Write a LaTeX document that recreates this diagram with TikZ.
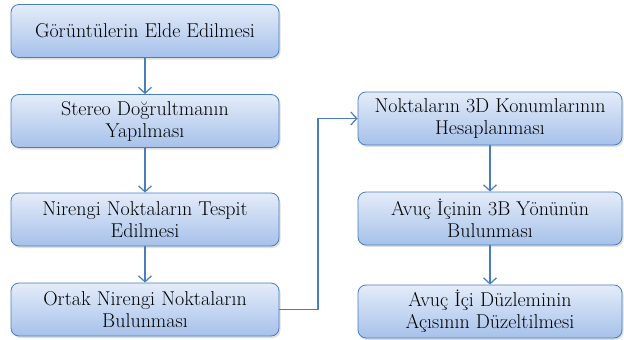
\documentclass[tikz,border=0pt]{standalone}
\usepackage{fontspec}
\usetikzlibrary{arrows.meta,shadows}
\definecolor{edgeblue}{HTML}{4A7EBB}
\definecolor{boxtop}{HTML}{E4ECF9}
\definecolor{boxbot}{HTML}{A6C1EA}
\begin{document}
\begin{tikzpicture}[x=1pt,y=-1pt,
  box/.style={draw=edgeblue, line width=0.8pt, rounded corners=8pt,
    top color=boxtop, bottom color=boxbot,
    minimum height=53pt, align=center, inner sep=0pt,
    font=\fontsize{20}{22}\selectfont,
    drop shadow={opacity=0.25, shadow xshift=1.5pt, shadow yshift=-2pt}},
  lbox/.style={box, minimum width=268pt},
  rbox/.style={box, minimum width=264pt},
  link/.style={draw=edgeblue, line width=1.2pt, -{Straight Barb[length=6pt,width=13pt]}}]
\useasboundingbox (0,0) rectangle (624,340);
\node[lbox] (a) at (145,31) {Görüntülerin Elde Edilmesi};
\node[lbox] (b) at (145,121) {Stereo Doğrultmanın\\Yapılması};
\node[lbox] (c) at (145,219.5) {Nirengi Noktaların Tespit\\Edilmesi};
\node[lbox] (d) at (145,309.5) {Ortak Nirengi Noktaların\\Bulunması};
\node[rbox] (e) at (490,118.5) {Noktaların 3D Konumlarının\\Hesaplanması};
\node[rbox] (f) at (490,218.5) {Avuç İçinin 3B Yönünün\\Bulunması};
\node[rbox] (g) at (490,311.5) {Avuç İçi Düzleminin\\Açısının Düzeltilmesi};
\draw[link] (a) -- (b);
\draw[link] (b) -- (c);
\draw[link] (c) -- (d);
\coordinate (t1) at (318,309.5);
\coordinate (t2) at (318,118.5);
\draw[link] (d.east) -- (t1) -- (t2) -- (e.west);
\draw[link] (e) -- (f);
\draw[link] (f) -- (g);
\end{tikzpicture}
\end{document}
